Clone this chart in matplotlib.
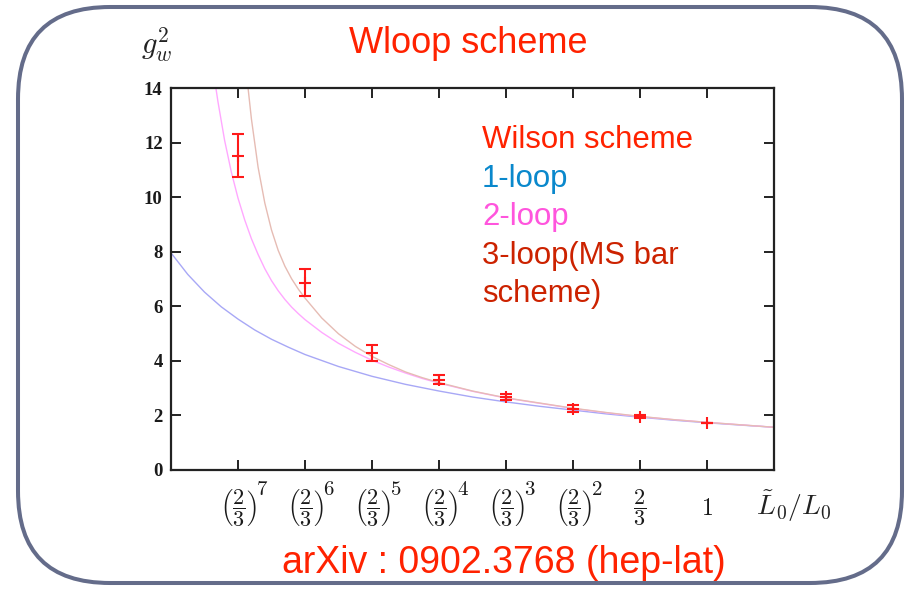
import matplotlib
matplotlib.use("Agg")
import matplotlib.pyplot as plt
from matplotlib.patches import FancyBboxPatch
from matplotlib.transforms import blended_transform_factory, offset_copy

plt.rcParams['mathtext.fontset'] = 'cm'

# ---- data (x = log_{3/2}(L~0/L0)) ----
tick_k = [-7, -6, -5, -4, -3, -2, -1, 0]
tick_base = [r'$\left(\dfrac{2}{3}\right)$'] * 6 + [r'$\dfrac{2}{3}$', r'$1$']
tick_exp = ['7', '6', '5', '4', '3', '2', '', '']

wilson_k = [-7, -6, -5, -4, -3, -2, -1, 0]
wilson_g2 = [11.52, 6.86, 4.29, 3.30, 2.66, 2.23, 1.94, 1.72]
wilson_err = [0.80, 0.48, 0.29, 0.17, 0.10, 0.12, 0.06, 0.0]

loop1_k = [-8, -7.75, -7.5, -7.25, -7, -6.75, -6.5, -6.25, -6, -5.5, -5, -4.5, -4,
           -3.5, -3, -2.5, -2, -1.5, -1, -0.5, 0, 0.5, 1]
loop1_g2 = [7.95, 7.16, 6.51, 5.97, 5.52, 5.12, 4.78, 4.49, 4.22, 3.78, 3.42, 3.125, 2.88,
            2.66, 2.48, 2.32, 2.18, 2.04, 1.92, 1.81, 1.715, 1.63, 1.55]

loop2_k = [-7.33, -7.3, -7.2, -7.1, -7.0, -6.9, -6.8, -6.7, -6.6, -6.5, -6.4, -6.3, -6.2,
           -6.1, -6.0, -5.75, -5.5, -5.25, -5.0, -4.75, -4.5, -4.25, -4, -3.5, -3, -2.5,
           -2, -1.5, -1, -0.5, 0, 0.5, 1]
loop2_g2 = [14.0, 13.51, 12.08, 10.92, 9.96, 9.16, 8.47, 7.89, 7.37, 6.93, 6.56, 6.24, 5.96,
            5.72, 5.50, 5.03, 4.63, 4.30, 4.01, 3.76, 3.54, 3.34, 3.17, 2.87, 2.62, 2.43,
            2.24, 2.08, 1.94, 1.83, 1.73, 1.64, 1.55]

loop3_k = [-6.85, -6.8, -6.7, -6.6, -6.5, -6.4, -6.3, -6.2, -6.1, -6.0, -5.75, -5.5, -5.25,
           -5.0, -4.75, -4.5, -4.25, -4.0, -3.5, -3, -2.5, -2, -1.5, -1, -0.5, 0, 0.5, 1]
loop3_g2 = [14.0, 12.87, 11.09, 9.78, 8.79, 8.04, 7.46, 7.00, 6.62, 6.29, 5.56, 4.98, 4.52,
            4.15, 3.85, 3.58, 3.37, 3.19, 2.88, 2.63, 2.44, 2.25, 2.09, 1.95, 1.83, 1.73, 1.64, 1.55]

W, H = 909, 589
fig = plt.figure(figsize=(W / 100, H / 100), dpi=100)
fig.patch.set_facecolor('white')

# rounded frame
frame = FancyBboxPatch((18 + 92, 6 + 92), (902 - 18) - 184, (582 - 6) - 184,
                       boxstyle="round,pad=92", transform=None,
                       facecolor='none', edgecolor='#646c8a', linewidth=2.9)
fig.patches.append(frame)

ax = fig.add_axes([171 / W, 1 - 469.5 / H, (774 - 171) / W, (469.5 - 88) / H])
ax.plot(loop1_k, loop1_g2, color='#a8a8f6', lw=1.0)
ax.plot(loop2_k, loop2_g2, color='#ffa8ff', lw=1.0)
ax.plot(loop3_k, loop3_g2, color='#e6bcb4', lw=1.0)
ax.errorbar(wilson_k, wilson_g2, yerr=wilson_err, fmt='+', color='#ff1a1a',
            ms=8, mew=1.5, elinewidth=1.5, capsize=4, capthick=1.5)

ax.set_xlim(-8, 1)
ax.set_ylim(0, 14)
ax.set_yticks(range(0, 15, 2))
ax.set_yticklabels([str(v) for v in range(0, 15, 2)], fontfamily='Liberation Serif',
                   fontweight='bold', fontsize=13.5, color='#1a1a1a')
ax.set_xticks(tick_k)
ax.set_xticklabels(tick_base, fontsize=16, color='#1a1a1a')
for lab in ax.get_xticklabels():
    lab.set_verticalalignment('center')
ax.get_xticklabels()[-1].set_fontsize(17)
ax.tick_params(axis='both', direction='in', length=7, width=1.4,
               top=True, right=True, color='#222222')
ax.tick_params(axis='x', pad=27.5)
ax.tick_params(axis='y', pad=6)
for sp in ax.spines.values():
    sp.set_linewidth(1.6)
    sp.set_color('#222222')

# exponents of the tick labels
trans = blended_transform_factory(ax.transData, fig.transFigure)
trans = offset_copy(trans, fig=fig, x=18, y=0, units='dots')
for k, e in zip(tick_k, tick_exp):
    if e:
        ax.text(k, 1 - 489 / H, '$' + e + '$', transform=trans, fontsize=15,
                ha='left', va='center', color='#1a1a1a', clip_on=False)

# y label
fig.text(157 / W, 1 - 45 / H, r'$g_w^2$', fontsize=22, ha='center', va='center', color='#222222')
# x label
fig.text(794 / W, 1 - 506 / H, r'$\tilde{L}_0/L_0$', fontsize=20, ha='center', va='center', color='#222222')

# title
fig.text(468 / W, 1 - 53 / H, 'Wloop scheme', fontsize=26, family='Liberation Sans',
         color='#ff2200', ha='center', va='baseline')

# legend text
leg_x = 482 / W
fs_leg = 22.4
fig.text(leg_x, 1 - 148 / H, 'Wilson scheme', fontsize=fs_leg, family='Liberation Sans', color='#ff2200', va='baseline')
fig.text(leg_x, 1 - 186.5 / H, '1-loop', fontsize=fs_leg, family='Liberation Sans', color='#0a88cc', va='baseline')
fig.text(leg_x, 1 - 225 / H, '2-loop', fontsize=fs_leg, family='Liberation Sans', color='#ff55dd', va='baseline')
fig.text(leg_x, 1 - 263.5 / H, '3-loop(MS bar', fontsize=fs_leg, family='Liberation Sans', color='#cc2200', va='baseline')
fig.text(leg_x, 1 - 302 / H, 'scheme)', fontsize=fs_leg, family='Liberation Sans', color='#cc2200', va='baseline')

# citation
fig.text(504 / W, 1 - 573 / H, 'arXiv : 0902.3768 (hep-lat)', fontsize=27, family='Liberation Sans',
         color='#ff2200', ha='center', va='baseline')

fig.savefig('out.png', dpi=100)
